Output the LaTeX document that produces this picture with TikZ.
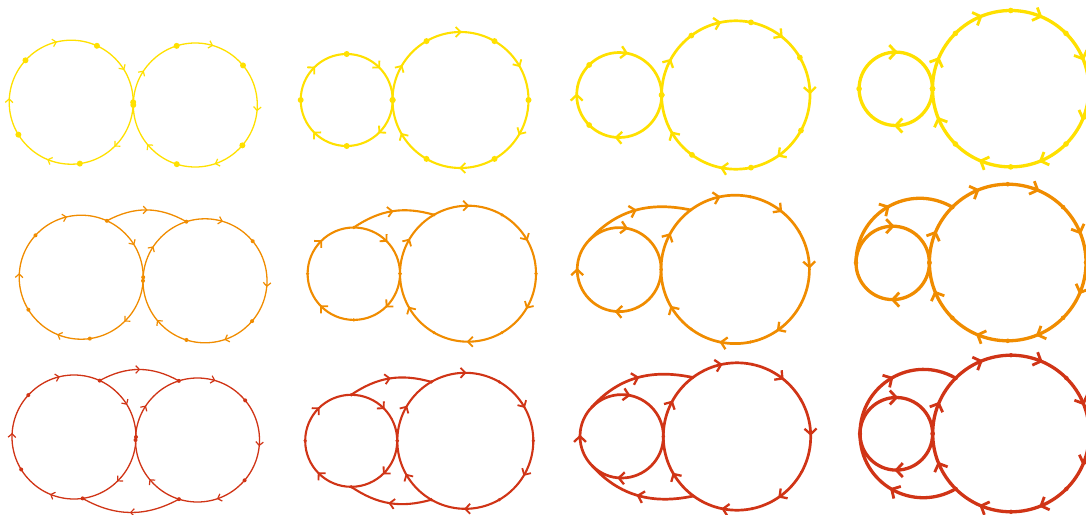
\documentclass[tikz,border=0pt]{standalone}
\usetikzlibrary{calc}
\definecolor{cy}{RGB}{255,224,0}
\definecolor{co}{RGB}{240,140,0}
\definecolor{cr}{RGB}{208,52,22}
\tikzset{
  chev/.style={line cap=butt, line join=miter, line width=\chlw},
  lw1/.style={line width=1.3pt},
  lw2/.style={line width=2.1pt},
  lw3/.style={line width=2.7pt},
  lw4/.style={line width=3.3pt},
}
\newcommand\chl{3pt}
\newcommand\chw{3.4pt}
\newcommand\chlw{1pt}
% chevron with its tip at #1, pointing in direction #2 (degrees)
\newcommand\chevat[2]{\draw[chev, shift={(#1)}, rotate=#2] (-\chl,\chw) -- (0pt,0pt) -- (-\chl,-\chw);}
% #1 prefix, #2 centre, #3 radius, #4 dot angles, #5 arrow angles (clockwise flow)
\newcommand\ring[5]{%
  \draw (#2) circle[radius=#3];
  \foreach \a [count=\i] in {#4} {\coordinate (#1-\i) at ($(#2)+(\a:#3)$);}
  \foreach \a in {#5} {\draw[chev, shift={($(#2)+(\a:#3)$)}, rotate=\a-90] (-\chl,\chw) -- (0pt,0pt) -- (-\chl,-\chw);}
}
% chevron at #1 along direction from #2 to #3
\newcommand\midchev[3]{%
  \pgfmathanglebetweenpoints{\pgfpointanchor{#2}{center}}{\pgfpointanchor{#3}{center}}%
  \let\chang\pgfmathresult
  \chevat{#1}{\chang}}
% #1 prefix, #2 count, #3 radius
\newcommand\blobs[3]{\foreach \i in {1,...,#2} {\fill (#1-\i) circle[radius=#3];}}
\newcommand\colA[3]{%
  \ring{#1l}{#2}{62pt}{0,65.5,137.5,211.6,278}{32,104,177,248,315}
  \ring{#1r}{#3}{62pt}{180,107.5,39.7,-40.6,252.6}{147,74,-5,-71,220}}
\newcommand\colB[5]{% prefix, left centre, left radius, right centre, right radius
  \ring{#1l}{#2}{#3}{0,90,180,270}{45,135,225,315}
  \ring{#1r}{#4}{#5}{180,120,60,0,-60,-120}{30,90,150,210,270,330}}
\newcommand\colC[5]{%
  \ring{#1l}{#2}{#3}{0,135,225}{80,180,266}
  \ring{#1r}{#4}{#5}{180,126.8,78.2,30.3,-28.6,-78.2,233.8}{152,102.5,52,1.8,-54.7,-101,210.6}}
\newcommand\colD[5]{%
  \ring{#1l}{#2}{#3}{0,180}{90,270}
  \ring{#1r}{#4}{#5}{180,135,90,45,0,-45,-90,-135}{22.5,67.5,112.5,157.5,202.5,247.5,292.5,337.5}}
% outer connector #2 -> #3 with path options #4, prefix #1 for its mid coordinates
\newcommand\outarc[4]{%
  \draw (#2) to[#4] coordinate[pos=0.5] (#1m) coordinate[pos=0.48] (#1a) coordinate[pos=0.52] (#1b) (#3);
  \midchev{#1m}{#1a}{#1b}}
\newcommand\szA{\renewcommand\chl{3.6pt}\renewcommand\chw{3.8pt}\renewcommand\chlw{1.2pt}}
\newcommand\szB{\renewcommand\chl{4.8pt}\renewcommand\chw{5pt}\renewcommand\chlw{1.8pt}}
\newcommand\szC{\renewcommand\chl{5.6pt}\renewcommand\chw{6pt}\renewcommand\chlw{2.3pt}}
\newcommand\szD{\renewcommand\chl{6.5pt}\renewcommand\chw{7pt}\renewcommand\chlw{2.8pt}}
\begin{document}
\begin{tikzpicture}[x=1pt,y=-1pt]
\useasboundingbox (0,0) rectangle (1086,514);
\clip (0,0) rectangle (1086,514);
% ---------------- row 1 (yellow)
\begin{scope}[color=cy]
  \begin{scope}[lw1]
    \szA
    \coordinate (A1L) at (71.2,102.2); \coordinate (A1R) at (195.3,105);
    \colA{A1}{A1L}{A1R}
    \blobs{A1l}{5}{3pt} \blobs{A1r}{5}{3pt}
  \end{scope}
  \begin{scope}[lw2]
    \szB
    \coordinate (A2L) at (346.7,100); \coordinate (A2R) at (460.5,100);
    \colB{A2}{A2L}{46pt}{A2R}{68pt}
    \blobs{A2l}{4}{3pt} \blobs{A2r}{6}{3pt}
  \end{scope}
  \begin{scope}[lw3]
    \szC
    \coordinate (A3L) at (619.2,95); \coordinate (A3R) at (735.8,95);
    \colC{A3}{A3L}{42.5pt}{A3R}{74.2pt}
    \blobs{A3l}{3}{2.9pt} \blobs{A3r}{7}{2.9pt}
  \end{scope}
  \begin{scope}[lw4]
    \szD
    \coordinate (A4L) at (895.8,88.8); \coordinate (A4R) at (1010.7,88.7);
    \colD{A4}{A4L}{36.7pt}{A4R}{78.2pt}
    \blobs{A4l}{2}{2.8pt} \blobs{A4r}{8}{2.8pt}
  \end{scope}
\end{scope}
% ---------------- row 2 (orange)
\begin{scope}[color=co]
  \begin{scope}[lw1]
    \szA
    \coordinate (B1L) at (81.2,277.2); \coordinate (B1R) at (205,280.8);
    \colA{B1}{B1L}{B1R}
    \outarc{B1t}{B1l-2}{B1r-2}{bend left=29}
    \blobs{B1l}{5}{2pt} \blobs{B1r}{5}{2pt}
  \end{scope}
  \begin{scope}[lw2]
    \szB
    \coordinate (B2L) at (353.8,273.7); \coordinate (B2R) at (468,273.7);
    \colB{B2}{B2L}{46.2pt}{B2R}{68pt}
    \outarc{B2t}{B2l-2}{B2r-2}{bend left=25}
    \blobs{B2l}{4}{1.8pt} \blobs{B2r}{6}{1.8pt}
  \end{scope}
  \begin{scope}[lw3]
    \szC
    \coordinate (B3L) at (619.2,269.6); \coordinate (B3R) at (735.2,269.4);
    \colC{B3}{B3L}{42pt}{B3R}{74.2pt}
    \outarc{B3t}{B3l-2}{B3r-2}{out=48,in=168}
    \blobs{B3l}{3}{1.7pt} \blobs{B3r}{7}{1.7pt}
  \end{scope}
  \begin{scope}[lw4]
    \szD
    \coordinate (B4L) at (892.7,262.9); \coordinate (B4R) at (1007.7,262.5);
    \colD{B4}{B4L}{36.7pt}{B4R}{78.3pt}
    \outarc{B4t}{B4l-2}{B4r-2}{out=90,in=150,looseness=1.15}
    \blobs{B4l}{2}{2.3pt} \blobs{B4r}{8}{2.3pt}
  \end{scope}
\end{scope}
% ---------------- row 3 (red)
\begin{scope}[color=cr]
  \begin{scope}[lw1]
    \szA
    \coordinate (C1L) at (74,437); \coordinate (C1R) at (197.5,440);
    \colA{C1}{C1L}{C1R}
    \outarc{C1t}{C1l-2}{C1r-2}{bend left=29}
    \outarc{C1b}{C1r-5}{C1l-5}{bend left=29}
    \blobs{C1l}{5}{2pt} \blobs{C1r}{5}{2pt}
  \end{scope}
  \begin{scope}[lw2]
    \szB
    \coordinate (C2L) at (351.2,440.8); \coordinate (C2R) at (465.3,440.8);
    \colB{C2}{C2L}{46pt}{C2R}{68pt}
    \outarc{C2t}{C2l-2}{C2r-2}{bend left=25}
    \outarc{C2b}{C2r-6}{C2l-4}{bend left=25}
    \blobs{C2l}{4}{1.8pt} \blobs{C2r}{6}{1.8pt}
  \end{scope}
  \begin{scope}[lw3]
    \szC
    \coordinate (C3L) at (621.7,436.3); \coordinate (C3R) at (737,436.5);
    \colC{C3}{C3L}{41.7pt}{C3R}{73.7pt}
    \outarc{C3t}{C3l-2}{C3r-2}{out=48,in=168}
    \outarc{C3b}{C3r-7}{C3l-3}{out=192,in=312}
    \blobs{C3l}{3}{1.7pt} \blobs{C3r}{7}{1.7pt}
  \end{scope}
  \begin{scope}[lw4]
    \szD
    \coordinate (C4L) at (896.3,433.8); \coordinate (C4R) at (1011,433.5);
    \colD{C4}{C4L}{36.3pt}{C4R}{78.3pt}
    \outarc{C4t}{C4l-2}{C4r-2}{out=90,in=150,looseness=1.15}
    \outarc{C4b}{C4r-8}{C4l-2}{out=210,in=270,looseness=1.15}
    \blobs{C4l}{2}{2.2pt} \blobs{C4r}{8}{2.2pt}
  \end{scope}
\end{scope}
\end{tikzpicture}
\end{document}
